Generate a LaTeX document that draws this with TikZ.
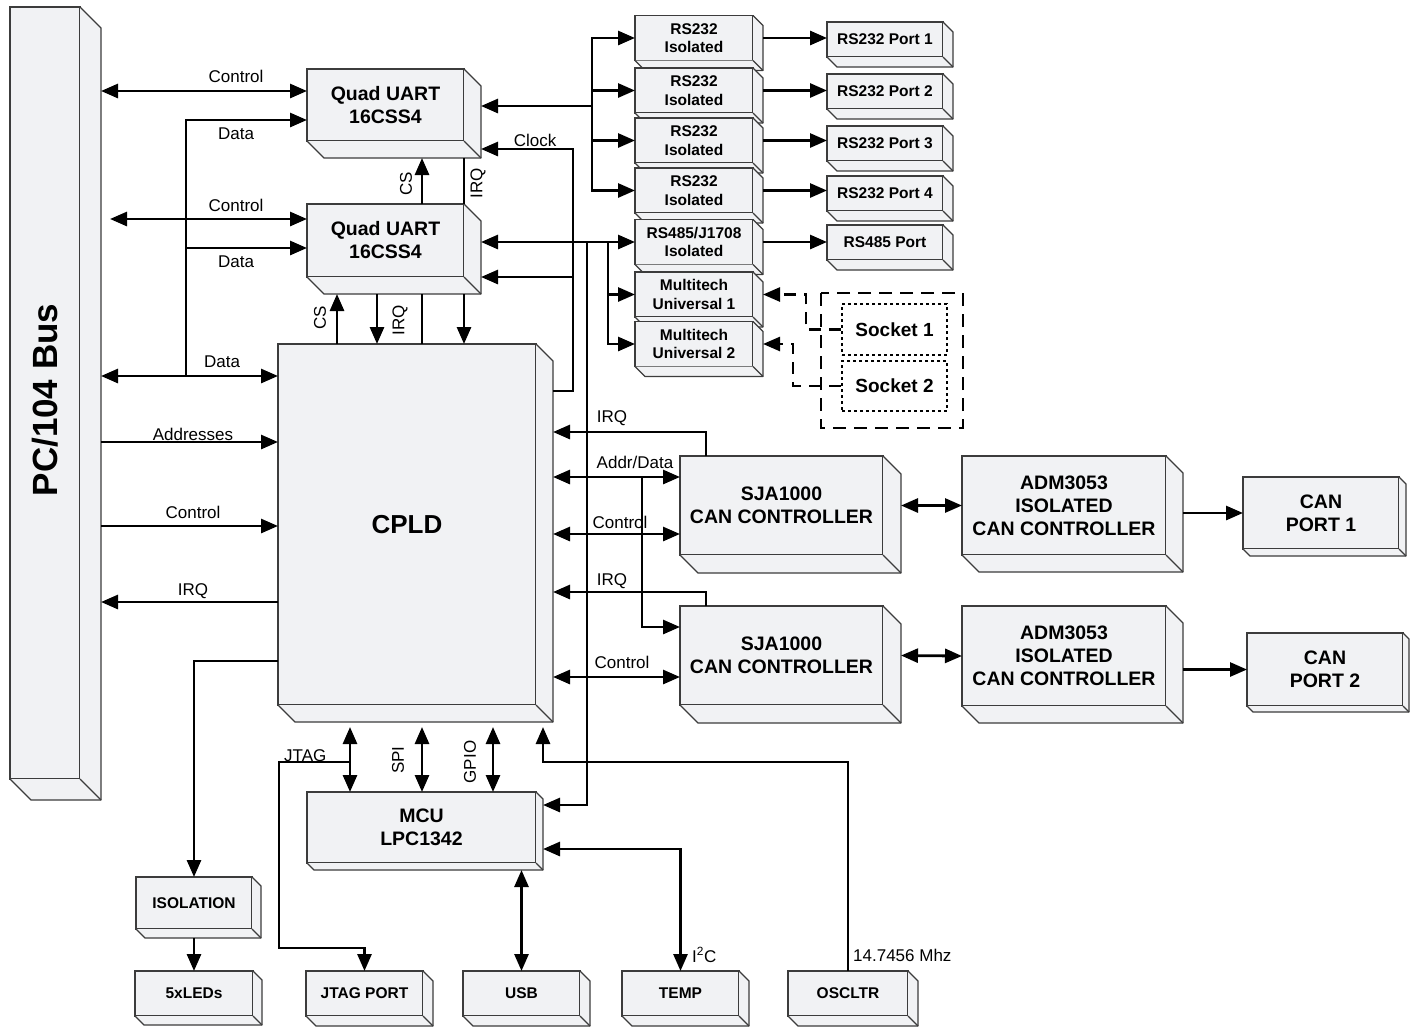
\documentclass[tikz,border=0pt]{standalone}
\usepackage{fontspec}
\setmainfont{Liberation Sans}
\usetikzlibrary{arrows.meta,calc}

\definecolor{boxfill}{HTML}{F1F2F4}
\definecolor{boxedge}{HTML}{3C3C3C}

% side and bottom faces of a block
\newcommand{\boxside}[2]{%
  \fill[boxfill] (#1.north east) -- ++(#2,#2) -- ($(#1.south east)+(#2,#2)$) -- ($(#1.south west)+(#2,#2)$) -- (#1.south west) -- (#1.south east) -- cycle;
  \draw[rim] (#1.north east) -- ++(#2,#2) -- ($(#1.south east)+(#2,#2)$) -- ($(#1.south west)+(#2,#2)$) -- (#1.south west);
  \draw[rim] (#1.south east) -- ++(#2,#2);
  \coordinate (#1-r) at ($(#1.east)+(#2,0)$);
  \coordinate (#1-b) at ($(#1.south)+(0,#2)$);
}

\begin{document}
\begin{tikzpicture}[x=1pt,y=-1pt,
  rim/.style={draw=boxedge, line width=1.3pt, line join=round},
  blk/.style={draw=boxedge, fill=boxfill, line width=1.3pt, inner sep=0pt, outer sep=0pt, align=center, font=\bfseries\fontsize{19.5}{23}\selectfont},
  sblk/.style={blk, font=\bfseries\fontsize{15.5}{18.5}\selectfont},
  wire/.style={line width=2.8pt},
  arr/.style={wire, -{Triangle[length=17pt,width=14pt]}},
  darr/.style={wire, {Triangle[length=17pt,width=14pt]}-{Triangle[length=17pt,width=14pt]}},
  dashwire/.style={line width=2.5pt, dash pattern=on 12pt off 8pt},
  lbl/.style={font=\fontsize{17}{20}\selectfont, inner sep=0pt},
  vlbl/.style={lbl, rotate=90}]

\useasboundingbox (0,0) rectangle (1418,1026);

% blocks
\node[blk, minimum width=70, minimum height=772] (bus) at (45,393) {};
\boxside{bus}{21}
\node[rotate=90, font=\bfseries\fontsize{35}{40}\selectfont] (busname) at (45,400) {PC/104 Bus};

\node[blk, minimum width=157, minimum height=72] (uart1) at (385.5,105) {Quad UART\\16CSS4};
\boxside{uart1}{17}
\node[blk, minimum width=157, minimum height=73] (uart2) at (385.5,240.5) {Quad UART\\16CSS4};
\boxside{uart2}{17}
\node[blk, minimum width=258, minimum height=361, font=\bfseries\fontsize{26}{30}\selectfont] (cpld) at (407,524.5) {CPLD};
\boxside{cpld}{17}

\foreach \n/\y in {1/38,2/90.5,3/140.5,4/190.5}{
  \node[sblk, minimum width=118, minimum height=45] (iso\n) at (694,\y) {RS232\\Isolated};
  \boxside{iso\n}{10}
}
\node[sblk, minimum width=118, minimum height=45] (iso5) at (694,242) {RS485/J1708\\Isolated};
\boxside{iso5}{10}
\node[sblk, minimum width=118, minimum height=45] (multi1) at (694,294.5) {Multitech\\Universal 1};
\boxside{multi1}{10}
\node[sblk, minimum width=118, minimum height=45] (multi2) at (694,344) {Multitech\\Universal 2};
\boxside{multi2}{10}

\foreach \n/\y in {1/39.5,2/91.5,3/143.5,4/193.5}{
  \node[sblk, minimum width=116, minimum height=35] (port\n) at (885,\y) {RS232 Port \n};
  \boxside{port\n}{10}
}
\node[sblk, minimum width=116, minimum height=35] (port5) at (885,242.5) {RS485 Port};
\boxside{port5}{10}

\node[blk, minimum width=203, minimum height=99] (sja1) at (781.5,505.5) {SJA1000\\CAN CONTROLLER};
\boxside{sja1}{18}
\node[blk, minimum width=203, minimum height=99] (sja2) at (781.5,655.5) {SJA1000\\CAN CONTROLLER};
\boxside{sja2}{18}
\node[blk, minimum width=204, minimum height=99] (adm1) at (1064,505.5) {ADM3053\\ISOLATED\\CAN CONTROLLER};
\boxside{adm1}{17}
\node[blk, minimum width=204, minimum height=100] (adm2) at (1064,656) {ADM3053\\ISOLATED\\CAN CONTROLLER};
\boxside{adm2}{17}
\node[blk, minimum width=156, minimum height=72] (can1) at (1321,513) {CAN\\PORT 1};
\boxside{can1}{7}
\node[blk, minimum width=156, minimum height=73] (can2) at (1325,669.5) {CAN\\PORT 2};
\boxside{can2}{6}

\node[blk, minimum width=229, minimum height=71] (mcu) at (421.5,827.5) {MCU\\LPC1342};
\boxside{mcu}{7}
\node[sblk, minimum width=116, minimum height=52] (isolation) at (194,903) {ISOLATION};
\boxside{isolation}{9}
\node[sblk, minimum width=118, minimum height=45] (leds) at (194,993.5) {5xLEDs};
\boxside{leds}{9}
\node[sblk, minimum width=117, minimum height=45] (jtagport) at (364.5,993.5) {JTAG PORT};
\boxside{jtagport}{10}
\node[sblk, minimum width=117, minimum height=45] (usb) at (521.5,993.5) {USB};
\boxside{usb}{10}
\node[sblk, minimum width=117, minimum height=45] (temp) at (680.5,993.5) {TEMP};
\boxside{temp}{10}
\node[sblk, minimum width=120, minimum height=45] (osc) at (848,993.5) {OSCLTR};
\boxside{osc}{10}

% sockets
\draw[dashwire, line width=2.2pt, dash pattern=on 13pt off 8pt] (821,293) rectangle (963,428);
\node[draw, line width=2.5pt, dash pattern=on 3pt off 3pt, minimum width=105, minimum height=51, font=\bfseries\fontsize{19}{22}\selectfont] (sock1) at (894.5,329.5) {Socket 1};
\node[draw, line width=2.5pt, dash pattern=on 3pt off 3pt, minimum width=105, minimum height=50, font=\bfseries\fontsize{19}{22}\selectfont] (sock2) at (894.5,386) {Socket 2};
\draw[dashwire, -{Triangle[length=17pt,width=14pt]}] (sock1.west) -| (806,0 |- multi1-r) -- (multi1-r);
\draw[dashwire, -{Triangle[length=17pt,width=14pt]}] (sock2.west) -| (793,0 |- multi2-r) -- (multi2-r);

% PC/104 bus side
\draw[darr] (bus-r |- 0,91) -- (uart1.west |- 0,91);
\node[lbl] (l1) at (236,76) {Control};
\draw[arr] (186,376) |- (uart1.west |- 0,120);
\node[lbl] (l2) at (236,134) {Data};
\draw[darr] (110,219) -- (uart2.west |- 0,219);
\node[lbl] (l3) at (236,205) {Control};
\draw[arr] (186,248) -- (uart2.west |- 0,248);
\node[lbl] (l4) at (236,262) {Data};
\draw[darr] (bus-r |- 0,376) -- (cpld.west |- 0,376);
\node[lbl] (l5) at (222,362) {Data};
\draw[arr] (bus-r |- 0,442) -- (cpld.west |- 0,442);
\node[lbl] (l6) at (193,434) {Addresses};
\draw[arr] (bus-r |- 0,526) -- (cpld.west |- 0,526);
\node[lbl] (l7) at (193,512) {Control};
\draw[arr] (cpld.west |- 0,602) -- (bus-r |- 0,602);
\node[lbl] (l8) at (193,591) {IRQ};
\draw[arr] (cpld.west |- 0,661) -| (isolation.north);
\draw[arr] (isolation-b) -- (leds.north);

% uart links
\draw[arr] (422,0 |- uart2.north) -- (422,0 |- uart1-b);
\node[vlbl] (l9) at (406,184) {CS};
\draw[wire] (464,0 |- uart1-b) -- (464,0 |- uart2.north);
\node[vlbl] (l10) at (478,183) {IRQ};
\draw[arr] (337,0 |- cpld.north) -- (337,0 |- uart2-b);
\node[vlbl] (l11) at (320,318) {CS};
\draw[arr] (377,0 |- uart2-b) -- (377,0 |- cpld.north);
\node[vlbl] (l12) at (400,320) {IRQ};
\draw[wire] (422,0 |- uart2-b) -- (422,0 |- cpld.north);
\draw[arr] (464,0 |- uart2-b) -- (464,0 |- cpld.north);

% clock
\draw[arr] (cpld-r |- 0,391) -- (573,391) -- (573,149) -- (uart1-r |- 0,149);
\node[lbl] (l13) at (535,140) {Clock};
\draw[arr] (573,277) -- (uart2-r |- 0,277);

% serial ports
\coordinate (rsbus) at (592,106);
\draw[arr] (rsbus) -- (uart1-r |- rsbus);
\draw[arr] (rsbus) |- (iso1.west);
\draw[arr] (rsbus) |- (iso4.west);
\draw[arr] (592,0 |- iso2.west) -- (iso2.west);
\draw[arr] (592,0 |- iso3.west) -- (iso3.west);
\foreach \n in {1,...,5}{
  \draw[arr] (iso\n-r) -- (port\n.west |- iso\n-r);
}
\draw[darr] (uart2-r |- iso5.west) -- (iso5.west);
\draw[arr] (608,0 |- iso5.west) |- (multi2.west);
\draw[arr] (608,0 |- multi1.west) -- (multi1.west);
\draw[arr] (587,0 |- iso5.west) |- (mcu-r |- 0,805);

% CAN
\draw[arr] (706,0 |- sja1.north) |- (cpld-r |- 0,432);
\node[lbl] (l14) at (612,418) {IRQ};
\draw[darr] (cpld-r |- 0,477) -- (sja1.west |- 0,477);
\node[lbl] (l15) at (635,462) {Addr/Data};
\draw[arr] (642,477) |- (sja2.west |- 0,627);
\draw[darr] (cpld-r |- 0,534) -- (sja1.west |- 0,534);
\node[lbl] (l16) at (620,522) {Control};
\draw[arr] (706,0 |- sja2.north) |- (cpld-r |- 0,592);
\node[lbl] (l17) at (612,581) {IRQ};
\draw[darr] (cpld-r |- 0,677) -- (sja2.west |- 0,677);
\node[lbl] (l18) at (622,662) {Control};
\draw[darr] (sja1-r) -- (adm1.west);
\draw[darr] (sja2-r) -- (adm2.west);
\draw[arr] (adm1-r |- can1.west) -- (can1.west);
\draw[arr] (adm2-r |- can2.west) -- (can2.west);

% MCU
\draw[darr] (350,727) -- (350,0 |- mcu.north);
\draw[darr] (422,727) -- (422,0 |- mcu.north);
\draw[darr] (493,727) -- (493,0 |- mcu.north);
\node[vlbl] (l19) at (398,760) {SPI};
\node[vlbl] (l20) at (470,762) {GPIO};
\draw[arr] (350,762) -| (279,948) -| (jtagport.north);
\node[lbl, anchor=base west] (l21) at (284,761) {JTAG};
\draw[arr] (osc.north) |- (543,762) -- (543,727);
\node[lbl, anchor=west] (l22) at (853,955) {14.7456 Mhz};
\draw[darr] (mcu-r |- 0,849) -| (temp.north);
\node[lbl, anchor=west] (l23) at (692,955) {I\textsuperscript{2}C};
\draw[darr] (usb.north |- mcu-b) -- (usb.north);
\end{tikzpicture}
\end{document}
